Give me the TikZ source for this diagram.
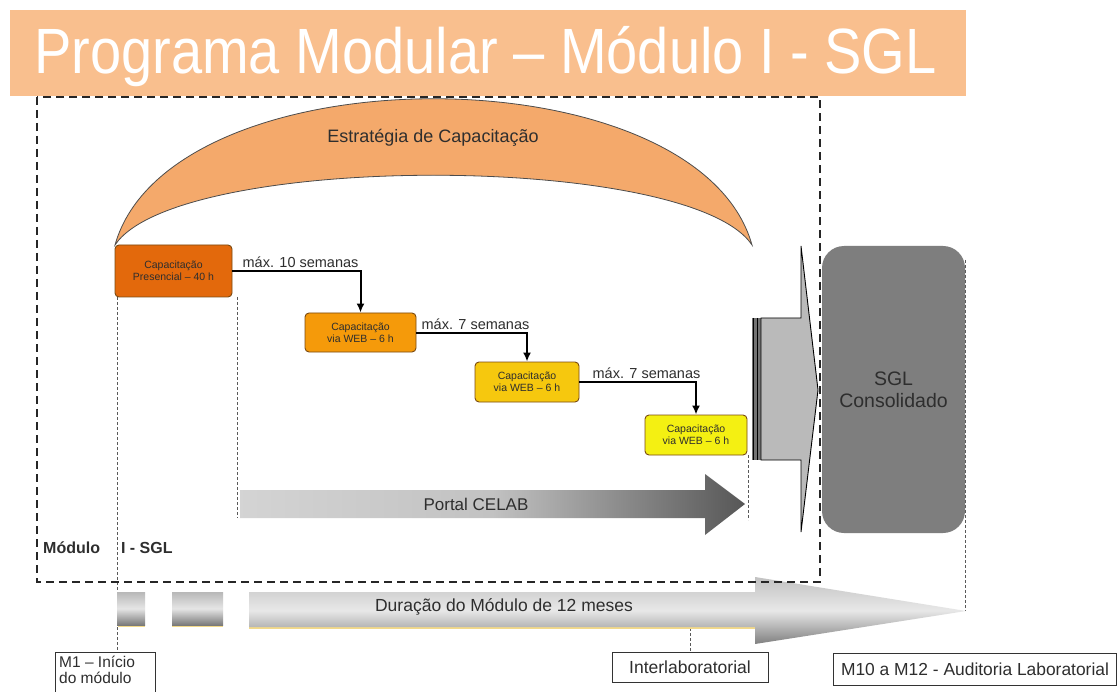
\documentclass[tikz,border=0pt]{standalone}
\usepackage{fontspec}
\setmainfont{Liberation Sans}
\usetikzlibrary{arrows.meta,calc}

\definecolor{bandorange}{HTML}{F9BF8E}
\definecolor{arcorange}{HTML}{F4A96B}
\definecolor{presorange}{HTML}{E3690C}
\definecolor{weborange}{HTML}{F59A0A}
\definecolor{webgold}{HTML}{F6C80E}
\definecolor{webyellow}{HTML}{F4F012}
\definecolor{boxedge}{HTML}{7A4A12}
\definecolor{sglgray}{HTML}{7E7E7E}
\definecolor{txtdark}{HTML}{2E2E2E}
\definecolor{glow}{HTML}{F2D98A}

\tikzset{
  stagebox/.style={draw=boxedge, line width=0.9pt, rounded corners=4pt,
    align=center, text=txtdark, inner sep=1pt,
    font=\fontsize{10.5}{12}\selectfont},
  steparrow/.style={line width=2pt, -{Latex[length=9pt,width=8pt]}},
  waitlabel/.style={font=\fontsize{14.5}{15}\selectfont, text=txtdark, inner sep=1pt},
  guide/.style={draw=black!65, line width=1pt, dash pattern=on 3pt off 2pt},
  modbox/.style={draw=black!85, line width=2.2pt, dash pattern=on 8pt off 5pt},
  tagbox/.style={draw=black!80, line width=0.9pt, fill=white, text=txtdark, inner sep=2pt},
  % middle color must come after top/bottom color, which reset it
  barshade/.style={top color=black!28, bottom color=black!52, middle color=black!10},
}

\begin{document}
% units are pixels; y runs downwards as negative values
\begin{tikzpicture}[x=1pt,y=1pt]
\useasboundingbox (0,0) rectangle (1118,-692);
\fill[white] (0,0) rectangle (1118,-692);

% title band
\fill[bandorange] (10,-10) rectangle (966,-96);
\node[anchor=west, text=white, inner sep=0pt, font=\fontsize{64}{64}\selectfont]
  (title) at (34,-57) {\scalebox{0.875}[1]{Programa Modular – Módulo I - SGL}};

% training strategy crescent
\filldraw[fill=arcorange, draw=black!70, line width=0.8pt]
  (115,-245) .. controls (170,-50) and (697,-50) .. (752,-245)
             .. controls (690,-152) and (177,-152) .. cycle;
\node[font=\fontsize{18}{18}\selectfont, text=txtdark] (strat) at (433,-138) {Estratégia de Capacitação};

% vertical guide lines
\draw[guide] (117,-297) -- (117,-652);
\draw[guide] (237,-297) -- (237,-518);
\draw[guide] (748,-455) -- (748,-520);
\draw[guide] (965,-260) -- (965,-611);
\draw[guide] (690,-628) -- (690,-652);

% training stages
\node[stagebox, fill=presorange, minimum width=117pt, minimum height=52pt]
  (b1) at (173.5,-271) {Capacitação\\Presencial – 40 h};
\node[stagebox, fill=weborange, minimum width=111pt, minimum height=39pt]
  (b2) at (360.5,-332.5) {Capacitação\\via WEB – 6 h};
\node[stagebox, fill=webgold, minimum width=104pt, minimum height=40pt]
  (b3) at (527,-382) {Capacitação\\via WEB – 6 h};
\node[stagebox, fill=webyellow, minimum width=102pt, minimum height=40pt]
  (b4) at (696,-435) {Capacitação\\via WEB – 6 h};

\draw[steparrow] (b1.east) -| (b2.north);
\draw[steparrow] (b2.east) -| (b3.north);
\draw[steparrow] (b3.east) -| (b4.north);

\node[waitlabel, anchor=south west] (w1) at ([xshift=9pt,yshift=2pt]b1.east) {máx. 10 semanas};
\node[waitlabel, anchor=south west] (w2) at ([xshift=4pt,yshift=2pt]b2.east) {máx. 7 semanas};
\node[waitlabel, anchor=south west] (w3) at ([xshift=12pt,yshift=2pt]b3.east) {máx. 7 semanas};

% Portal CELAB arrow
\shade[left color=black!17, right color=black!66, middle color=black!24]
  (240,-490) -- (705,-490) -- (705,-474) -- (745,-504) -- (705,-535) -- (705,-518) -- (240,-518) -- cycle;
\node[font=\fontsize{17}{17}\selectfont, text=txtdark] (portal) at (476,-504) {Portal CELAB};

% converging arrow into the consolidated system
\fill[black!55] (752,-318) rectangle (762,-460);
\draw[black, line width=1pt] (753,-318) -- (753,-460);
\draw[black, line width=1pt] (757,-318) -- (757,-460);
\filldraw[fill=black!27, draw=black, line width=0.9pt]
  (761,-318) -- (801,-318) -- (801,-246) -- (818,-390) -- (801,-532) -- (801,-460) -- (761,-460) -- cycle;

% consolidated system
\node[fill=sglgray, rounded corners=22pt, minimum width=143pt, minimum height=287pt,
  align=center, text=txtdark, font=\fontsize{19.5}{22}\selectfont]
  (sgl) at (893.5,-389.5) {SGL\\Consolidado};

% timeline blocks and duration arrow
\draw[glow, line width=1.2pt] (118,-626) -- (145,-626) (172,-626) -- (223,-626) (249,-628) -- (755,-628);
\shade[barshade] (117,-592) rectangle (145,-625);
\shade[barshade] (172,-592) rectangle (223,-625);
\shade[top color=black!24, bottom color=black!50, middle color=black!9]
  (249,-592) -- (755,-592) -- (755,-577) -- (966,-611) -- (755,-644) -- (755,-627) -- (249,-627) -- cycle;
\node[font=\fontsize{17.5}{18}\selectfont, text=txtdark] (dur) at (504,-607) {Duração do Módulo de 12 meses};

% module frame
\draw[modbox] (37,-97) rectangle (820,-582);
\node[anchor=west, font=\bfseries\fontsize{16}{16}\selectfont, text=txtdark, inner sep=0pt]
  (mod) at (43,-548) {Módulo\hspace{21pt}I - SGL};

% milestone tags
\draw[draw=black!80, line width=0.9pt] (55,-700) -- (55,-652) -- (155,-652) -- (155,-700);
\node[anchor=north west, align=left, inner sep=0pt, text=txtdark,
  font=\fontsize{15.5}{15.5}\selectfont]
  (m1) at (59,-656) {M1 – Início\\do módulo};
\node[tagbox, minimum width=156pt, minimum height=30pt, font=\fontsize{17.5}{17}\selectfont]
  (inter) at (690,-667) {Interlaboratorial};
\node[tagbox, minimum width=283pt, minimum height=32pt, font=\fontsize{17.4}{17}\selectfont]
  (audit) at (975,-669) {M10 a M12 - Auditoria Laboratorial};
\end{tikzpicture}
\end{document}
